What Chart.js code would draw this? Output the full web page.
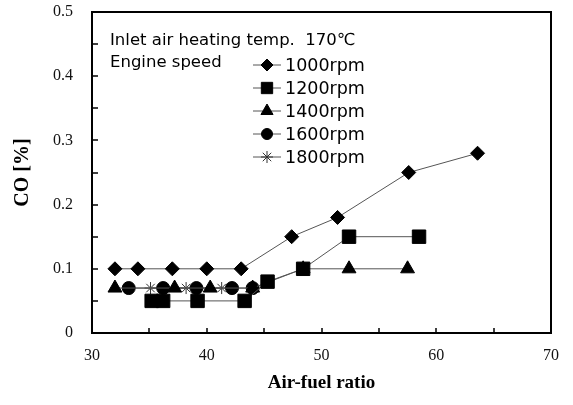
<!DOCTYPE html>
<html>
<head>
<meta charset="utf-8">
<script src="https://cdn.jsdelivr.net/npm/chart.js@4.4.1/dist/chart.umd.min.js"></script>
<style>
  html, body { margin: 0; padding: 0; background: #fff; }
  #wrap { width: 573px; height: 405px; }
</style>
</head>
<body>
<div id="wrap"><canvas id="coChart" width="573" height="405"></canvas></div>
<script>
// Air-fuel ratio (x) and CO [%] (y) for each engine speed
const speedLabels = ['1000rpm', '1200rpm', '1400rpm', '1600rpm', '1800rpm'];

const afr1000 = [32, 34, 37, 40, 43, 47.4, 51.4, 57.6, 63.6];
const co1000 = [0.1, 0.1, 0.1, 0.1, 0.1, 0.15, 0.18, 0.25, 0.28];

const afr1200 = [35.2, 36.2, 39.2, 43.3, 45.3, 48.4, 52.4, 58.5];
const co1200 = [0.05, 0.05, 0.05, 0.05, 0.08, 0.1, 0.15, 0.15];

const afr1400 = [32, 37.2, 40.3, 44, 48.4, 52.4, 57.5];
const co1400 = [0.07, 0.07, 0.07, 0.07, 0.1, 0.1, 0.1];

const afr1600 = [33.2, 36.2, 39.1, 42.2, 44];
const co1600 = [0.07, 0.07, 0.07, 0.07, 0.07];

const afr1800 = [35.1, 38.2, 41.3];
const co1800 = [0.07, 0.07, 0.07];

const xTicks = [30, 40, 50, 60, 70];
const yTicks = [0, 0.1, 0.2, 0.3, 0.4, 0.5];

const noteTitle = 'Inlet air heating temp.  170℃';
const noteSpeed = 'Engine speed';

function toPoints(xs, ys) {
    return xs.map((x, i) => ({ x: x, y: ys[i] }));
}

const styles = [
    { pointStyle: 'rectRot', radius: 7, legendRadius: 6 },
    { pointStyle: 'rect', radius: 9.5, legendRadius: 8 },
    { pointStyle: 'triangle', radius: 8, legendRadius: 7 },
    { pointStyle: 'circle', radius: 6.5, legendRadius: 5.5 },
    { pointStyle: 'star', radius: 6, legendRadius: 6 }
];

const allX = [afr1000, afr1200, afr1400, afr1600, afr1800];
const allY = [co1000, co1200, co1400, co1600, co1800];

const datasets = speedLabels.map((label, i) => {
    const isStar = styles[i].pointStyle === 'star';
    return {
        label: label,
        data: toPoints(allX[i], allY[i]),
        showLine: true,
        borderColor: '#555',
        borderWidth: 1,
        backgroundColor: '#000',
        pointStyle: styles[i].pointStyle,
        pointRadius: styles[i].radius,
        pointBorderColor: isStar ? '#333' : '#000',
        pointBackgroundColor: '#000',
        pointBorderWidth: 1,
        legendRadius: styles[i].legendRadius
    };
});

// frame, inward ticks, note text and the legend inside the plot
const framePlugin = {
    id: 'frame',
    afterDraw(chart) {
        const ctx = chart.ctx;
        const a = chart.chartArea;
        const xs = chart.scales.x;
        const ys = chart.scales.y;
        ctx.save();
        ctx.strokeStyle = '#000';
        ctx.lineWidth = 2;
        ctx.strokeRect(a.left, a.top, a.right - a.left, a.bottom - a.top);

        ctx.lineWidth = 1.5;
        ctx.beginPath();
        for (let v = 35; v < 70; v += 5) {
            const px = Math.round(xs.getPixelForValue(v));
            ctx.moveTo(px, a.bottom);
            ctx.lineTo(px, a.bottom - 5);
        }
        for (let k = 1; k < 10; k++) {
            const py = Math.round(ys.getPixelForValue(k * 0.05));
            ctx.moveTo(a.left, py);
            ctx.lineTo(a.left + 6, py);
        }
        ctx.stroke();

        ctx.fillStyle = '#000';
        ctx.font = '16.5px "DejaVu Sans"';
        ctx.textBaseline = 'middle';
        ctx.textAlign = 'left';
        ctx.fillText(noteTitle, 110, 41);
        ctx.fillText(noteSpeed, 110, 63);

        ctx.font = '17.5px "DejaVu Sans"';
        chart.data.datasets.forEach((ds, i) => {
            const rowY = 65 + i * 23;
            ctx.strokeStyle = ds.borderColor;
            ctx.lineWidth = 1;
            ctx.beginPath();
            ctx.moveTo(253, rowY);
            ctx.lineTo(281, rowY);
            ctx.stroke();
            ctx.fillStyle = '#000';
            ctx.strokeStyle = ds.pointBorderColor;
            Chart.helpers.drawPoint(ctx, {
                pointStyle: ds.pointStyle,
                radius: ds.legendRadius,
                borderWidth: 1,
                rotation: 0
            }, 267, rowY);
            ctx.fillStyle = '#000';
            ctx.fillText(ds.label, 285, rowY + 1);
        });
        ctx.restore();
    }
};

const ctx = document.getElementById('coChart').getContext('2d');
new Chart(ctx, {
    type: 'scatter',
    data: { datasets: datasets },
    options: {
        responsive: false,
        animation: false,
        layout: { padding: { top: 12, right: 22, left: 0, bottom: 0 } },
        plugins: {
            legend: { display: false },
            tooltip: { enabled: false }
        },
        scales: {
            x: {
                type: 'linear',
                min: 30,
                max: 70,
                afterBuildTicks(scale) {
                    scale.ticks = xTicks.map(v => ({ value: v }));
                },
                afterFit(scale) {
                    scale.height = 72;
                    scale.paddingLeft = 0;
                    scale.paddingRight = 0;
                },
                grid: { display: false, drawTicks: false },
                border: { display: false },
                ticks: {
                    padding: 13,
                    color: '#111',
                    font: { family: '"Liberation Serif"', size: 16 },
                    maxRotation: 0
                },
                title: {
                    display: true,
                    text: 'Air-fuel ratio',
                    color: '#000',
                    font: { family: '"Liberation Serif"', size: 19, weight: 'bold' },
                    padding: { top: 0, bottom: 11 }
                }
            },
            y: {
                type: 'linear',
                min: 0,
                max: 0.5,
                afterBuildTicks(scale) {
                    scale.ticks = yTicks.map(v => ({ value: v }));
                },
                afterFit(scale) {
                    scale.width = 92;
                    scale.paddingTop = 0;
                    scale.paddingBottom = 0;
                },
                grid: { display: false, drawTicks: false },
                border: { display: false },
                ticks: {
                    padding: 19,
                    color: '#111',
                    font: { family: '"Liberation Serif"', size: 16 },
                    callback: v => String(Math.round(v * 10) / 10)
                },
                title: {
                    display: true,
                    text: 'CO [%]',
                    color: '#000',
                    font: { family: '"Liberation Serif"', size: 20, weight: 'bold' },
                    padding: { top: 11, bottom: 0 }
                }
            }
        }
    },
    plugins: [framePlugin]
});
</script>
</body>
</html>
